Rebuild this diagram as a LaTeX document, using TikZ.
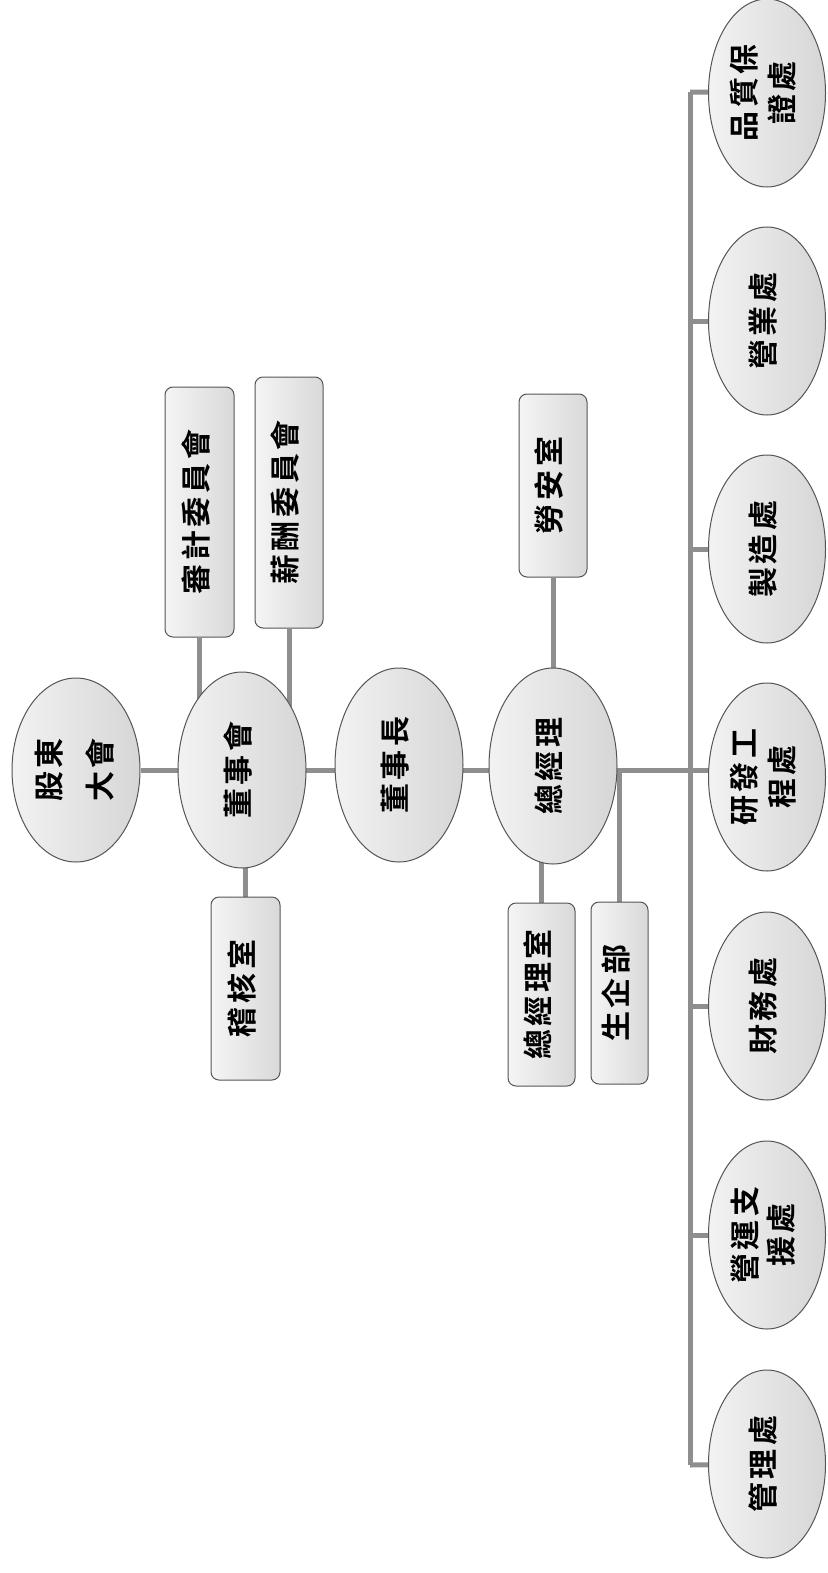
\documentclass[tikz,border=0pt]{standalone}
\usepackage{fontspec}
\usetikzlibrary{shapes.geometric,backgrounds}
\newfontfamily\cjk{Noto Sans CJK TC Bold}[LetterSpace=12]
\newcommand{\vtxt}[2][1]{\rotatebox{90}{\renewcommand{\arraystretch}{#1}\begin{tabular}{@{}c@{}}#2\end{tabular}}}
\definecolor{linegray}{HTML}{8E8E8E}
\definecolor{edgegray}{HTML}{555555}
\begin{document}
\begin{tikzpicture}[x=1pt,y=-1pt,
  every node/.style={font=\cjk\fontsize{30}{34}\selectfont, text=black},
  oval/.style={ellipse, draw=edgegray, line width=1pt, inner sep=0pt, left color=gray!10, right color=gray!32},
  bigoval/.style={oval, minimum width=128pt, minimum height=192pt},
  sideoval/.style={oval, minimum width=117pt, minimum height=188pt},
  lbl/.style={inner sep=0pt},
  box/.style={rectangle, rounded corners=8pt, draw=edgegray, line width=1pt, inner sep=0pt, left color=gray!8, right color=gray!30},
  conn/.style={draw=linegray, line width=5pt}
]
\useasboundingbox (0,0) rectangle (827,1573);

% main chain
\node[bigoval, minimum height=184pt] (gd) at (76,770) {};
\node[lbl] (gdt) at (gd) {\vtxt[1.5]{股東\\大會}};
\node[bigoval, minimum height=196pt] (dsh) at (242,770) {};
\node[lbl] (dsht) at (dsh) {\vtxt{董事會}};
\node[bigoval, minimum height=194pt] (dsz) at (399,765) {};
\node[lbl] (dszt) at (dsz) {\vtxt{董事長}};
\node[bigoval, minimum height=196pt] (zjl) at (553,766) {};
\node[lbl] (zjlt) at (zjl) {\vtxt{總經理}};

% boxes
\node[box, minimum width=69pt, minimum height=250pt] (sj) at (199.5,512) {\vtxt{審計委員會}};
\node[box, minimum width=68pt, minimum height=251pt] (xc) at (289,502.5) {\vtxt{薪酬委員會}};
\node[box, minimum width=69pt, minimum height=183pt] (jh) at (245.5,988.5) {\vtxt{稽核室}};
\node[box, minimum width=68pt, minimum height=183pt] (la) at (553,485.5) {\vtxt{勞安室}};
\node[box, minimum width=67pt, minimum height=183pt] (zjs) at (541.5,994.5) {\vtxt{總經理室}};
\node[box, minimum width=57pt, minimum height=182pt] (sq) at (619.5,993) {\vtxt{生企部}};

% right column
\node[sideoval] (p1) at (767,93) {};
\node[lbl] (p1t) at (p1) {\vtxt[1.1]{品質保\\證處}};
\node[sideoval] (p2) at (767,321) {};
\node[lbl] (p2t) at (p2) {\vtxt{營業處}};
\node[sideoval] (p3) at (767,549) {};
\node[lbl] (p3t) at (p3) {\vtxt{製造處}};
\node[sideoval] (p4) at (767,777) {};
\node[lbl] (p4t) at (p4) {\vtxt[1.1]{研發工\\程處}};
\node[sideoval] (p5) at (767,1006) {};
\node[lbl] (p5t) at (p5) {\vtxt{財務處}};
\node[sideoval] (p6) at (767,1235) {};
\node[lbl] (p6t) at (p6) {\vtxt[1.05]{營運支\\援處}};
\node[sideoval] (p7) at (767,1464) {};
\node[lbl] (p7t) at (p7) {\vtxt{管理處}};

\coordinate (bt) at (690,92);
\coordinate (bm) at (690,770);
\coordinate (bb) at (690,1465);

\begin{scope}[on background layer]
  \draw[conn] (gd) -- (dsh);
  \draw[conn] (dsh.center) -- (dsz.center |- dsh.center);
  \draw[conn] (dsz.center |- dsh.center) -- (zjl.center |- dsh.center);
  \draw[conn] (sj) -- (sj |- dsh.center);
  \draw[conn] (xc) -- (xc |- dsh.center);
  \draw[conn] (jh) -- (jh |- dsh.center);
  \draw[conn] (la) -- (la |- zjl.center);
  \draw[conn] (zjs) -- (zjs |- zjl.center);
  \draw[conn] (sq) -- (sq |- bm);
  \draw[conn] (zjl.center |- bm) -- (bm);
  \draw[conn, line cap=square] (bt) -- (bb);
  \draw[conn] (bt) -- (p1);
  \draw[conn] (bt |- p2) -- (p2);
  \draw[conn] (bt |- p3) -- (p3);
  \draw[conn] (bm) -- (p4.center |- bm);
  \draw[conn] (bt |- p5) -- (p5);
  \draw[conn] (bt |- p6) -- (p6);
  \draw[conn] (bb) -- (p7);
\end{scope}
\end{tikzpicture}
\end{document}
